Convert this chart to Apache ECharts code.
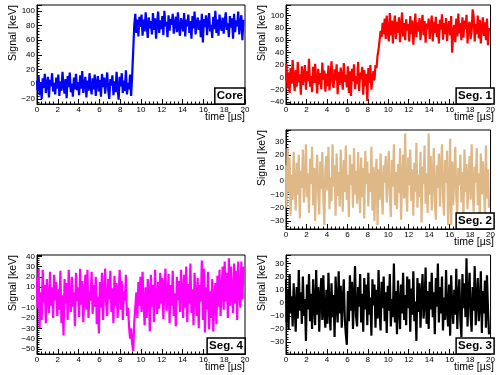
<!DOCTYPE html>
<html>
<head>
<meta charset="utf-8">
<script src="https://cdn.jsdelivr.net/npm/echarts@6/dist/echarts.min.js"></script>
<style>
html, body { margin: 0; padding: 0; background: #fff; }
#chart { width: 498px; height: 375px; }
</style>
</head>
<body>
<div id="chart"></div>
<script>
// sample spacing (µs)
var dt = 0.1;

// signals, 20 samples per row = 2 µs
var core = [
	5,-8,12,-15,3,-20,8,-5,14,-12,0,10,-18,6,-3,15,-10,2,-14,9,
	-6,13,-16,4,-9,17,-2,-13,7,-19,11,-4,16,-11,1,-17,9,-7,14,-8,
	3,-15,12,-6,18,-12,-1,10,-18,5,-9,15,-3,-14,8,-7,13,-16,2,11,
	-10,6,-17,14,-4,9,-13,1,16,-8,-20,7,-2,12,-15,4,-11,17,-6,-21,
	10,-3,15,-12,5,-9,19,-14,2,-7,13,-16,12,45,80,96,70,88,65,92,
	78,95,66,88,72,98,80,63,91,76,86,68,97,74,90,62,84,99,70,87,
	75,93,67,100,79,85,64,94,73,89,81,96,69,83,92,71,98,77,66,90,
	84,72,97,65,88,79,95,70,86,62,93,76,99,68,82,91,74,87,64,96,
	57,89,78,94,67,85,97,72,81,63,92,75,100,70,88,66,95,80,73,91,
	69,86,98,74,83,64,93,77,90,62,96,71,87,79,99,68,84,94,60,88
];
var seg1 = [
	-5,22,-18,8,-25,15,-10,28,-3,-22,12,-15,25,-8,5,-28,18,-12,3,20,
	-20,10,-6,30,-15,2,-24,17,-9,22,-2,-26,14,-11,7,-19,24,-4,11,-23,
	6,-14,19,-21,3,26,-8,-17,13,-5,21,-27,9,-12,16,-1,-20,23,-7,4,
	-16,18,-25,10,-30,14,-6,21,-19,2,-11,25,-22,8,-3,17,-28,12,-14,6,
	-38,15,-9,20,-20,-2,10,-5,20,15,35,45,60,75,65,88,70,95,62,100,
	75,58,104,68,92,55,85,100,62,90,72,97,57,83,105,66,88,60,94,76,
	86,58,99,70,92,53,80,103,65,89,74,96,60,84,101,68,91,56,87,78,
	95,62,83,100,58,90,72,98,65,86,55,93,77,102,61,88,70,96,59,82,
	91,68,99,40,74,85,57,95,66,103,71,88,60,97,64,92,78,101,55,84,
	90,62,74,110,98,58,86,70,100,63,93,55,82,97,67,89,60,95,52,80
];
var seg2 = [
	12,-20,25,-8,18,-26,5,-14,22,-3,-22,14,-10,20,-28,8,-5,24,-16,2,
	28,-12,6,-24,17,-2,26,-18,10,-30,4,20,-9,-25,15,-6,22,-13,-33,9,
	19,-7,26,-21,3,-15,28,-4,12,-26,21,-11,7,-19,24,-1,-23,16,-8,27,
	-14,5,-27,20,-3,13,-20,25,-10,8,-17,22,-5,-24,18,-12,10,-28,23,-2,
	15,-19,6,-8,26,-22,11,-30,3,17,-33,9,-14,21,-6,-25,12,-1,19,-16,
	4,23,-11,-27,16,-4,28,-18,7,-21,13,-9,25,-29,1,20,-13,36,-7,-23,
	18,-3,24,-15,9,-26,14,-8,29,-20,5,-12,22,-31,11,-2,27,-17,6,-24,
	36,-10,19,-22,2,25,-14,-29,12,-5,21,-19,8,28,-11,-26,16,-1,23,-33,
	-9,32,-33,15,-18,4,26,-12,-24,10,-3,20,-16,7,-27,24,-8,13,-21,2,
	19,-14,28,-6,-23,11,-1,25,-18,6,-28,21,-10,15,-4,-25,27,-13,9,-20
];
var seg3 = [
	18,-15,10,-20,22,-8,5,-18,15,-3,-22,12,-12,25,-6,8,-16,20,-10,3,
	-29,14,-5,22,-14,7,-20,18,-2,-17,25,-9,12,-22,4,19,-13,21,-7,-19,
	10,-16,23,-4,-21,15,-11,6,-26,20,-1,-15,24,-8,13,-19,2,18,-12,-24,
	-32,9,-14,21,-6,16,-20,3,28,-10,-18,12,-3,22,-15,7,-22,19,-5,14,
	-17,23,-9,4,-25,18,-2,14,-19,10,-12,25,-7,-21,16,-4,20,-14,8,-23,
	13,-6,22,-18,3,-11,30,-15,9,-24,17,-2,-20,14,-8,23,-13,6,-17,20,
	-4,18,-22,11,-9,24,-14,1,-29,19,-7,15,-19,5,22,-12,-1,27,-16,9,
	-20,16,-5,23,-11,8,-24,19,-3,30,-15,12,-8,20,-21,4,-13,25,-6,-18,
	14,-25,21,-2,-16,10,-9,26,-20,5,18,-13,-26,22,-4,15,-11,34,-18,7,
	23,-10,-22,12,-6,28,-17,3,19,-14,-1,24,-23,9,-8,17,-19,21,-5,-24
];
var seg4 = [
	20,-10,28,-30,5,-22,27,-5,12,-25,18,0,-15,25,-8,10,-20,22,-3,15,
	-18,8,-12,26,-25,2,-37,18,-6,14,-22,27,-1,-14,20,-9,5,-28,24,-4,
	10,-19,28,-7,16,-24,3,22,-12,27,-20,6,-3,25,-16,12,-9,20,-26,1,
	-35,15,-10,24,-22,5,28,-6,-18,18,-2,26,-14,9,-25,21,-8,14,-20,3,
	27,-12,16,-22,6,-3,22,-18,-10,-28,-40,-30,-45,-52,-25,-10,5,-20,15,-8,
	20,-14,25,-5,-27,10,-20,18,2,-33,22,-9,12,-24,27,-2,-16,15,-11,24,
	-6,19,-21,8,28,-13,-1,23,-25,12,-8,26,-18,4,-28,20,-3,16,-14,27,
	5,-20,22,-10,30,-24,13,-6,33,-15,8,-27,24,1,-18,19,-30,12,-4,36,
	-22,28,-34,10,-12,25,-31,6,-20,18,-33,-2,14,-26,21,-9,27,-18,7,30,
	-12,35,-4,24,-20,38,-8,30,2,-15,33,-6,26,-22,35,5,-10,35,-2,30
];

var names = ['Core', 'Seg. 1', 'Seg. 2', 'Seg. 4', 'Seg. 3'];
var colors = ['#0000ff', '#ff0000', '#deb887', '#ff00ff', '#000000'];
var signals = [core, seg1, seg2, seg4, seg3];

// panel frames and y ranges
var panels = [
	{left: 37, top: 5, ymin: -27, ymax: 108, split: 7},
	{left: 286, top: 5, ymin: -43, ymax: 117, split: 8},
	{left: 286, top: 130, ymin: -36, ymax: 38.7, split: 8},
	{left: 37, top: 255, ymin: -55, ymax: 41.3, split: 10},
	{left: 286, top: 255, ymin: -39, ymax: 36.5, split: 8}
];
var W = 208, H = 99;
var font = 'Liberation Sans, Arial, sans-serif';

let toPairs = arr => {
	let out = [];
	arr.forEach(function(v, i){
		out.push([+(i * dt).toFixed(2), v]);
	})
	return out;
}

// ROOT style minus sign
let fmt = v => String(v).replace('-', '\u2212');

var grid = [], xAxis = [], yAxis = [], series = [], title = [], graphic = [];

panels.forEach(function(p, i){
	grid.push({
		left: p.left, top: p.top, width: W, height: H,
		show: true, borderColor: '#000', borderWidth: 1, backgroundColor: '#fff'
	});
	xAxis.push({
		gridIndex: i, type: 'value', min: 0, max: 20, interval: 2,
		axisLine: {show: true, onZero: false, lineStyle: {color: '#000', width: 1}},
		axisTick: {inside: true, length: 5, lineStyle: {color: '#000'}},
		minorTick: {show: true, splitNumber: 5, length: 2.5, lineStyle: {color: '#000'}},
		splitLine: {show: false},
		axisLabel: {fontSize: 8, color: '#000', fontFamily: font, margin: 2}
	});
	yAxis.push({
		gridIndex: i, type: 'value', min: p.ymin, max: p.ymax, splitNumber: p.split,
		axisLine: {show: true, onZero: false, lineStyle: {color: '#000', width: 1}},
		axisTick: {inside: true, length: 5, lineStyle: {color: '#000'}},
		minorTick: {show: true, splitNumber: 5, length: 2.5, lineStyle: {color: '#000'}},
		splitLine: {show: false},
		axisLabel: {fontSize: 8, color: '#000', fontFamily: font, margin: 2,
			showMinLabel: false, showMaxLabel: false, formatter: fmt}
	});
	series.push({
		name: names[i], type: 'line', xAxisIndex: i, yAxisIndex: i,
		data: toPairs(signals[i]),
		step: 'middle',
		showSymbol: false, symbol: 'none', animation: false,
		lineStyle: {color: colors[i], width: 2.2},
		itemStyle: {color: colors[i]}
	});
	title.push({
		text: names[i],
		right: 498 - (p.left + W), top: p.top + 83,
		padding: [2, 2],
		borderColor: '#000', borderWidth: 1.5, backgroundColor: '#fff',
		textStyle: {fontSize: 11.5, fontWeight: 'bold', color: '#000', fontFamily: font}
	});
	graphic.push({
		type: 'text', x: p.left - 24, y: p.top, rotation: Math.PI / 2,
		style: {text: 'Signal [keV]', align: 'right', verticalAlign: 'middle',
			fontSize: 10.5, fill: '#000', fontFamily: font}
	});
	graphic.push({
		type: 'text', x: p.left + W, y: p.top + H + 13,
		style: {text: 'time [µs]', align: 'right', verticalAlign: 'middle',
			fontSize: 10.5, fill: '#000', fontFamily: font}
	});
})

var chart = echarts.init(document.getElementById('chart'));
chart.setOption({
	animation: false,
	backgroundColor: '#fff',
	title: title,
	grid: grid,
	xAxis: xAxis,
	yAxis: yAxis,
	series: series,
	graphic: graphic
});
</script>
</body>
</html>
